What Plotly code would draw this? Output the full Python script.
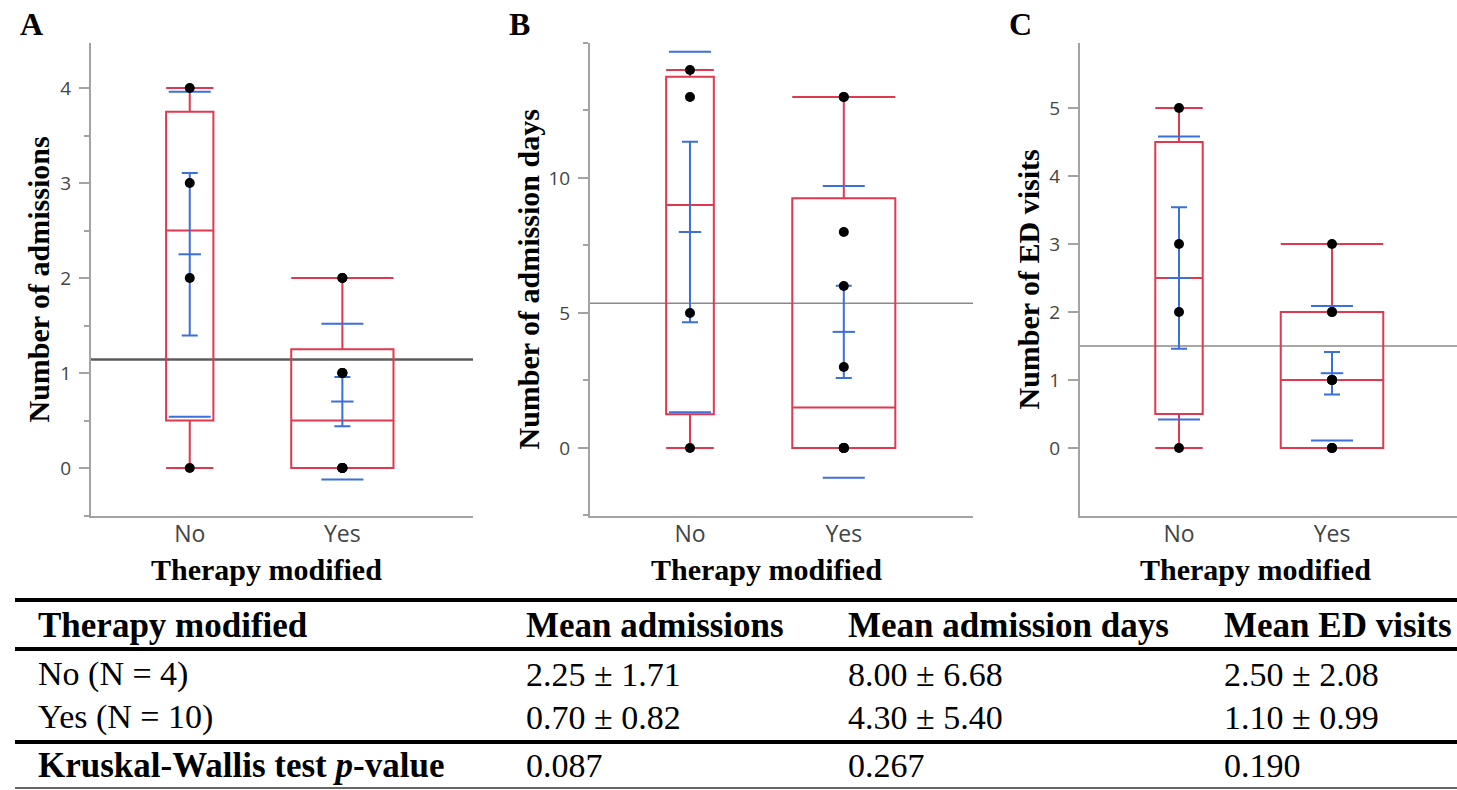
import numpy as np
import plotly.graph_objects as go

# ---------------- data ----------------
categories = ["No", "Yes"]
group_n = [4, 10]

admissions_no = [0, 2, 3, 4]
admissions_yes = [0, 0, 0, 0, 0, 1, 1, 1, 2, 2]
adm_days_no = [0, 5, 13, 14]
adm_days_yes = [0, 0, 0, 0, 0, 3, 6, 8, 13, 13]
ed_visits_no = [0, 2, 3, 5]
ed_visits_yes = [0, 0, 0, 1, 1, 1, 1, 2, 2, 3]

mean_admissions = [2.25, 0.70]
sd_admissions = [1.71, 0.82]
mean_adm_days = [8.00, 4.30]
sd_adm_days = [6.68, 5.40]
mean_ed_visits = [2.50, 1.10]
sd_ed_visits = [2.08, 0.99]
kw_p_values = ["0.087", "0.267", "0.190"]

table_header = ["Therapy modified", "Mean admissions", "Mean admission days", "Mean ED visits"]
row_labels = ["No (N = 4)", "Yes (N = 10)"]
p_label = "Kruskal-Wallis test <i>p</i>-value"

panel_letters = ["A", "B", "C"]
y_titles = ["Number of admissions", "Number of admission days", "Number of ED visits"]
x_title = "Therapy modified"
y_tickvals = [[0, 1, 2, 3, 4], [0, 5, 10], [0, 1, 2, 3, 4, 5]]

# ---------------- style / layout ----------------
W, H = 1457, 790
RED = "#e0384f"
BLUE = "#3b6fdc"
AXIS = "#a3a3a3"
SANS = "Open Sans"
SERIF = "Liberation Serif"
PLOT_TOP, PLOT_BOTTOM = 43, 516


def px(x):
    return x / W


def py(y):
    return 1 - y / H


panels = [
    dict(data=(admissions_no, admissions_yes), mean=mean_admissions, sd=sd_admissions,
         x0=91, x1=473, yr=[-0.505, 4.474], xr=[-0.647, 1.856], minor=0.5,
         ytitle_x=38, letter_x=31, gm_color="#5c5c5c", gm_width=2.5),
    dict(data=(adm_days_no, adm_days_yes), mean=mean_adm_days, sd=sd_adm_days,
         x0=590, x1=973, yr=[-2.52, 15.0], xr=[-0.650, 1.840], minor=2.5,
         ytitle_x=528, letter_x=519, gm_color="#8a8a8a", gm_width=1.5),
    dict(data=(ed_visits_no, ed_visits_yes), mean=mean_ed_visits, sd=sd_ed_visits,
         x0=1080, x1=1457, yr=[-1.0, 5.956], xr=[-0.647, 1.817], minor=None,
         ytitle_x=1028, letter_x=1020, gm_color="#8a8a8a", gm_width=1.5),
]
box_widths = [0.31, 0.67]

fig = go.Figure()
shapes = []
annotations = []

for pi, p in enumerate(panels):
    s = "" if pi == 0 else str(pi + 1)
    xa, ya = "x" + s, "y" + s
    for gi, vals in enumerate(p["data"]):
        cat = categories[gi]
        q1, med, q3 = np.percentile(vals, [25, 50, 75], method="weibull")
        fig.add_trace(go.Box(
            x=[cat], q1=[q1], median=[med], q3=[q3],
            lowerfence=[min(vals)], upperfence=[max(vals)],
            width=box_widths[gi], whiskerwidth=1,
            line=dict(color=RED, width=2), fillcolor="rgba(0,0,0,0)",
            boxpoints=False, hoverinfo="skip", showlegend=False,
            xaxis=xa, yaxis=ya))
        m, sd, n = p["mean"][gi], p["sd"][gi], group_n[gi]
        se = sd / np.sqrt(n)
        # mean +/- SD ticks
        fig.add_trace(go.Scatter(
            x=[cat, cat], y=[m - sd, m + sd], mode="markers",
            marker=dict(symbol="line-ew", size=30, line=dict(width=2, color=BLUE)),
            showlegend=False, hoverinfo="skip", xaxis=xa, yaxis=ya))
        # mean with SE error bar
        fig.add_trace(go.Scatter(
            x=[cat], y=[m], mode="markers",
            marker=dict(symbol="line-ew", size=16, line=dict(width=2, color=BLUE)),
            error_y=dict(type="data", array=[se], visible=True, color=BLUE,
                         thickness=2, width=8),
            showlegend=False, hoverinfo="skip", xaxis=xa, yaxis=ya))
        # raw points
        fig.add_trace(go.Scatter(
            x=[cat] * len(vals), y=vals, mode="markers",
            marker=dict(color="black", size=10),
            showlegend=False, hoverinfo="skip", xaxis=xa, yaxis=ya))

    grand_mean = float(np.mean(list(p["data"][0]) + list(p["data"][1])))
    shapes.append(dict(type="line", xref=xa + " domain", x0=0, x1=1, yref=ya,
                       y0=grand_mean, y1=grand_mean,
                       line=dict(color=p["gm_color"], width=p["gm_width"]), layer="below"))

    yaxis = dict(domain=[py(PLOT_BOTTOM), py(PLOT_TOP)], range=p["yr"], anchor=xa,
                 tickvals=y_tickvals[pi], ticks="outside", ticklen=10, tickwidth=1.5,
                 tickcolor=AXIS, showline=True, linecolor=AXIS, linewidth=2,
                 showgrid=False, zeroline=False, ticklabelstandoff=4,
                 tickfont=dict(family=SANS, size=19, color="#444"))
    if p["minor"]:
        yaxis["minor"] = dict(dtick=p["minor"], tick0=0, ticks="outside", ticklen=5,
                              tickcolor=AXIS, tickwidth=1.5, showgrid=False)
    xaxis = dict(domain=[px(p["x0"]), px(p["x1"])], range=p["xr"], anchor=ya,
                 type="category", categoryorder="array", categoryarray=categories,
                 ticks="", showline=True, linecolor=AXIS, linewidth=2,
                 showgrid=False, zeroline=False, ticklabelstandoff=-4,
                 tickfont=dict(family=SANS, size=23, color="#444"))
    fig.layout["xaxis" + s] = xaxis
    fig.layout["yaxis" + s] = yaxis

    # axis titles and panel letters
    annotations.append(dict(text="<b>%s</b>" % y_titles[pi], textangle=-90,
                            xref="paper", yref="paper", x=px(p["ytitle_x"]),
                            y=py((PLOT_TOP + PLOT_BOTTOM) / 2),
                            xanchor="center", yanchor="middle", showarrow=False,
                            font=dict(family=SERIF, size=30, color="black")))
    annotations.append(dict(text="<b>%s</b>" % x_title, xref=xa, yref="paper",
                            x=0.5, y=py(569), xanchor="center", yanchor="middle",
                            showarrow=False,
                            font=dict(family=SERIF, size=30, color="black")))
    annotations.append(dict(text="<b>%s</b>" % panel_letters[pi], xref="paper",
                            yref="paper", x=px(p["letter_x"]), y=py(24),
                            xanchor="center", yanchor="middle", showarrow=False,
                            font=dict(family=SERIF, size=32, color="black")))

# ---------------- table ----------------
col_x = [36, 524, 846, 1222]
row_y = dict(header=625, no=674, yes=717, p=765)
TFONT = 34
TFONT_B = 35


def fmt(m, s):
    return "%.2f \u00b1 %.2f" % (m, s)


def cell(text, x, y, bold=False):
    annotations.append(dict(text="<b>%s</b>" % text if bold else text,
                            xref="paper", yref="paper", x=px(x), y=py(y),
                            xanchor="left", yanchor="middle", showarrow=False,
                            font=dict(family=SERIF, size=TFONT_B if bold else TFONT,
                                      color="black")))


for ci, h in enumerate(table_header):
    cell(h, col_x[ci], row_y["header"], bold=True)
means_sds = [(mean_admissions, sd_admissions), (mean_adm_days, sd_adm_days),
             (mean_ed_visits, sd_ed_visits)]
for ri, key in enumerate(["no", "yes"]):
    cell(row_labels[ri], col_x[0], row_y[key])
    for ci, (mm, ss) in enumerate(means_sds):
        cell(fmt(mm[ri], ss[ri]), col_x[ci + 1], row_y[key])
cell(p_label, col_x[0], row_y["p"], bold=True)
for ci, pv in enumerate(kw_p_values):
    cell(pv, col_x[ci + 1], row_y["p"])

for y, w, c in [(600, 4, "black"), (649, 4, "black"), (742, 4, "black"), (788, 2, "#666")]:
    shapes.append(dict(type="line", xref="paper", yref="paper", x0=px(15), x1=1,
                       y0=py(y), y1=py(y), line=dict(color=c, width=w)))

fig.update_layout(width=W, height=H, margin=dict(l=0, r=0, t=0, b=0),
                  paper_bgcolor="white", plot_bgcolor="white", boxmode="overlay",
                  shapes=shapes, annotations=annotations, showlegend=False)

fig.write_html("out.html", config={"displayModeBar": False},
               post_script="document.body.style.margin='0';")
